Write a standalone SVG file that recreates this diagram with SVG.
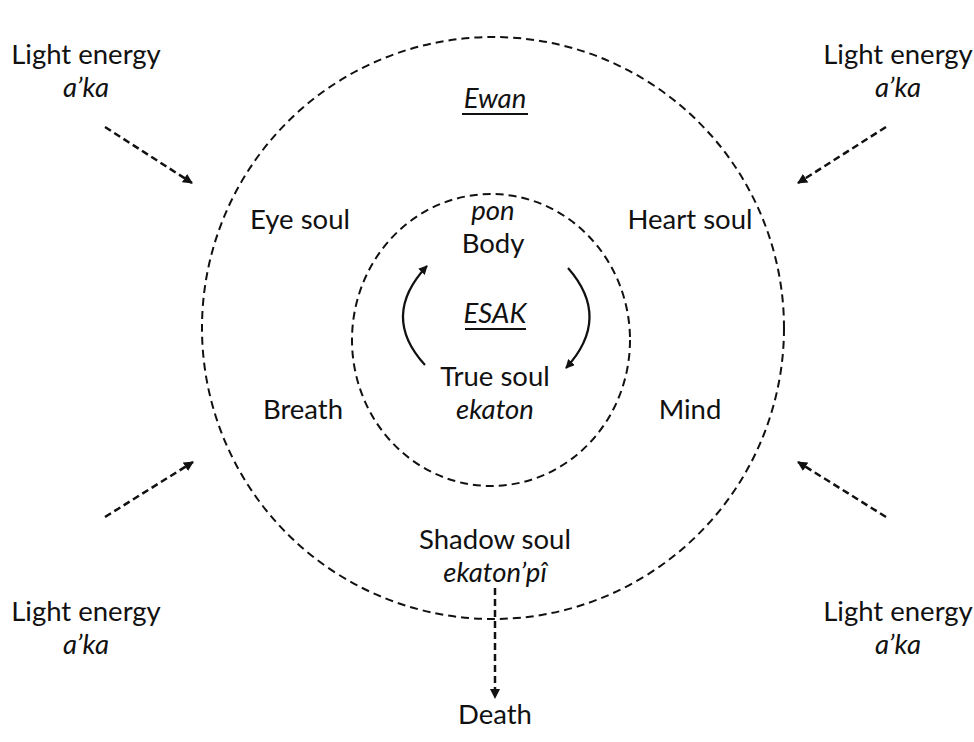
<svg xmlns="http://www.w3.org/2000/svg" width="974" height="742" viewBox="0 0 974 742">
<style>
text{font-family:Lato,"Liberation Sans",sans-serif;font-size:27.5px;fill:#111;text-anchor:middle}
.it{font-style:italic}
.ring{fill:none;stroke:#111;stroke-width:2;stroke-dasharray:8 5}
.dash{fill:none;stroke:#111;stroke-width:2.5;stroke-dasharray:7 4}
.solid{fill:none;stroke:#111;stroke-width:2.2}
.ul{stroke:#111;stroke-width:2}
</style>
<defs>
<marker id="ah" viewBox="0 0 10 10" refX="9" refY="5" markerWidth="10" markerHeight="10" markerUnits="userSpaceOnUse" orient="auto">
<path d="M0,0 L10,5 L0,10 z" fill="#111"/>
</marker>
<marker id="ah2" viewBox="0 0 10 10" refX="9" refY="5" markerWidth="9" markerHeight="9" markerUnits="userSpaceOnUse" orient="auto">
<path d="M0,0 L10,5 L0,10 z" fill="#111"/>
</marker>
</defs>
<rect width="974" height="742" fill="#fff"/>
<g id="outer-ring"><circle class="ring" cx="493" cy="328" r="291"/></g>
<g id="inner-ring"><ellipse class="ring" cx="491" cy="340" rx="139" ry="146"/></g>
<g id="connectors">
<path class="dash" d="M105,127 L192,183" marker-end="url(#ah)"/>
<path class="dash" d="M886,127 L798,183" marker-end="url(#ah)"/>
<path class="dash" d="M105,517 L193,462" marker-end="url(#ah)"/>
<path class="dash" d="M886,517 L798,462" marker-end="url(#ah)"/>
<path class="dash" d="M495,588 L495,698" marker-end="url(#ah)"/>
<path class="solid" d="M425,365 Q380,316 427,266" marker-end="url(#ah2)"/>
<path class="solid" d="M568,268 Q612,318 566,368" marker-end="url(#ah2)"/>
</g>
<g id="light-tl"><text x="86" y="64">Light energy</text><text class="it" x="86" y="97">a’ka</text></g>
<g id="light-tr"><text x="898" y="64">Light energy</text><text class="it" x="898" y="97">a’ka</text></g>
<g id="light-bl"><text x="86" y="621">Light energy</text><text class="it" x="86" y="654">a’ka</text></g>
<g id="light-br"><text x="898" y="621">Light energy</text><text class="it" x="898" y="654">a’ka</text></g>
<g id="ewan"><text class="it" x="495" y="108">Ewan</text><line class="ul" x1="462" y1="114" x2="528" y2="114"/></g>
<g id="eye-soul"><text x="300" y="229">Eye soul</text></g>
<g id="heart-soul"><text x="690" y="229">Heart soul</text></g>
<g id="body"><text class="it" x="493" y="220">pon</text><text x="493" y="253">Body</text></g>
<g id="esak"><text class="it" x="495" y="323">ESAK</text><line class="ul" x1="465" y1="329" x2="526" y2="329"/></g>
<g id="true-soul"><text x="495" y="386">True soul</text><text class="it" x="495" y="419">ekaton</text></g>
<g id="breath"><text x="303" y="419">Breath</text></g>
<g id="mind"><text x="690" y="419">Mind</text></g>
<g id="shadow-soul"><text x="495" y="549">Shadow soul</text><text class="it" x="495" y="582">ekaton’pî</text></g>
<g id="death"><text x="495" y="724">Death</text></g>
</svg>
